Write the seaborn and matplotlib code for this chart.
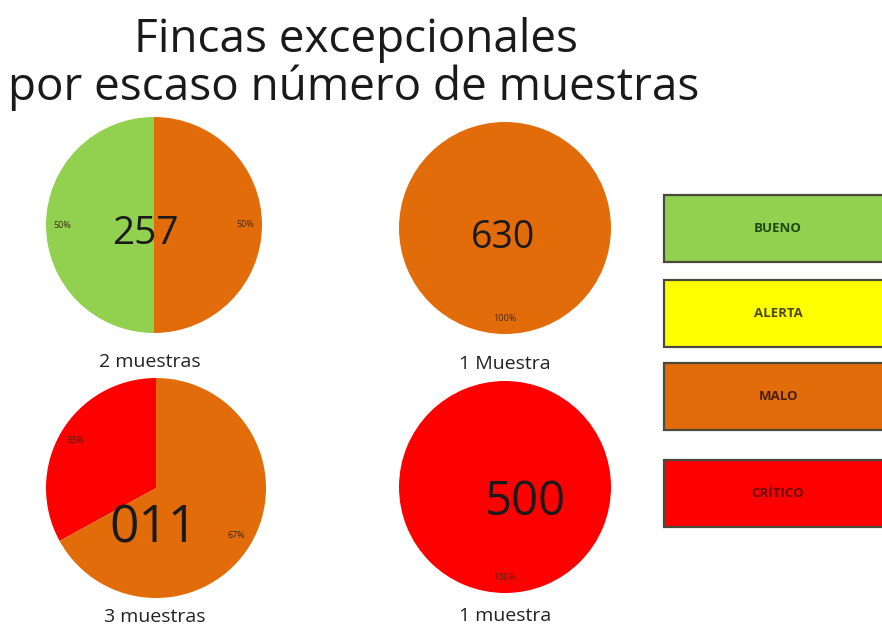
import matplotlib
matplotlib.use("Agg")
import matplotlib.pyplot as plt
from matplotlib.patches import Rectangle
import seaborn as sns

# ---------------- data ----------------
groups = ["2 muestras", "1 Muestra", "3 muestras", "1 muestra"]
codes = ["257", "630", "011", "500"]
categories = ["BUENO", "ALERTA", "CRÍTICO", "MALO"]
bueno = [50, 0, 0, 0]
alerta = [0, 0, 0, 0]
critico = [0, 0, 33, 100]
malo = [50, 100, 67, 0]
legend_labels = ["BUENO", "ALERTA", "MALO", "CRÍTICO"]
title_lines = ["Fincas excepcionales", "por escaso número de muestras"]

# ---------------- style ----------------
sns.set_theme(style="white")
FONT = ["Open Sans", "DejaVu Sans"]
plt.rcParams["font.family"] = FONT

cat_colors = {"BUENO": "#92D050", "ALERTA": "#FFFF00",
              "MALO": "#E36C0A", "CRÍTICO": "#FF0000"}
cat_text = {"BUENO": "#1E4A12", "ALERTA": "#4A4A10",
            "MALO": "#4A1E08", "CRÍTICO": "#6A0A0A"}

W, H = 882, 631
fig = plt.figure(figsize=(W / 100, H / 100), dpi=100)
fig.patch.set_facecolor("white")

def fx(x):
    return x / W

def fy(y):
    return 1 - y / H

# pie layout (pixel centres, radii)
centers = [(154, 225), (505, 228), (156, 488), (505, 487)]
radii = [108, 106, 110, 106]
code_pos = [(145, 234), (503, 238), (153, 529), (526, 502)]
code_size = [28, 27, 37, 34]
label_pos = [(150, 362), (505, 364), (155, 617), (505, 616)]

series = {"BUENO": bueno, "ALERTA": alerta, "CRÍTICO": critico, "MALO": malo}

for i, g in enumerate(groups):
    cx, cy = centers[i]
    r = radii[i]
    ax = fig.add_axes([fx(cx - r), fy(cy + r), 2 * r / W, 2 * r / H])
    vals, cols = [], []
    for c in categories:
        v = series[c][i]
        if v > 0:
            vals.append(v)
            cols.append(cat_colors[c])
    wedges, texts, autotexts = ax.pie(
        vals, colors=cols, startangle=90, counterclock=True,
        autopct=lambda p: f"{p:.0f}%", pctdistance=0.85, radius=1,
        wedgeprops=dict(linewidth=0), textprops=dict(fontsize=6.5, color="#3a2a10"))
    ax.set_xlim(-1, 1)
    ax.set_ylim(-1, 1)
    ax.set_aspect("auto")
    ax.axis("off")
    # centre code
    fig.text(fx(code_pos[i][0]), fy(code_pos[i][1]), codes[i], ha="center", va="center",
             fontsize=code_size[i], color="#1a1a1a")
    # label below
    fig.text(fx(label_pos[i][0]), fy(label_pos[i][1]), g, ha="center", va="center",
             fontsize=14, color="#222222")

# title
fig.text(fx(356), fy(40), title_lines[0], ha="center", va="center", fontsize=33, color="#1a1a1a")
fig.text(fx(354), fy(88), title_lines[1], ha="center", va="center", fontsize=33, color="#1a1a1a")

# legend boxes
boxes = [(195, 262), (280, 347), (363, 430), (460, 527)]
for lab, (y0, y1) in zip(legend_labels, boxes):
    rect = Rectangle((fx(664), fy(y1)), fx(882 - 664 + 20), (y1 - y0) / H,
                     transform=fig.transFigure, facecolor=cat_colors[lab],
                     edgecolor="#4a4a3a", linewidth=1.6)
    fig.add_artist(rect)
    fig.text(fx(778), fy((y0 + y1) / 2), lab, ha="center", va="center",
             fontsize=9.5, fontweight="bold", color=cat_text[lab])

fig.savefig("out.png", dpi=100, facecolor="white")
